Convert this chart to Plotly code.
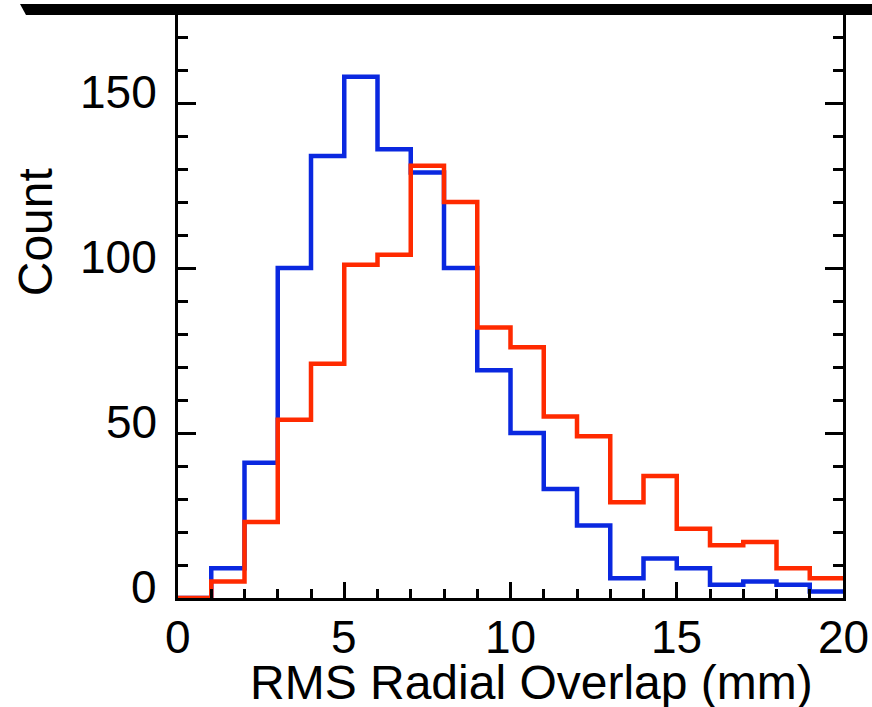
import plotly.graph_objects as go

bin_edges = list(range(0, 21))
blue_counts = [0, 9, 41, 100, 134, 158, 136, 129, 100, 69, 50, 33, 22, 6, 12, 9, 4, 5, 4, 2]
red_counts = [0, 5, 23, 54, 71, 101, 104, 131, 120, 82, 76, 55, 49, 29, 37, 21, 16, 17, 9, 6]
x_ticks = [0, 5, 10, 15, 20]
y_ticks = [0, 50, 100, 150]

W, H = 872, 707
L, R, T, B = 178, 843, 13, 598

fig = go.Figure()
for counts, color in [(blue_counts, "#0a28e0"), (red_counts, "#ff2a00")]:
    fig.add_trace(go.Scatter(
        x=bin_edges, y=counts + [counts[-1]],
        mode="lines", line=dict(color=color, width=4.5, shape="hv"),
        showlegend=False, hoverinfo="skip", cliponaxis=False))

fam = "Liberation Sans, Arial, Helvetica, sans-serif"
tick_font = dict(family=fam, size=46, color="black")
title_font = dict(family=fam, size=48, color="black")

fig.update_layout(
    width=W, height=H,
    margin=dict(l=L, r=W - R, t=T, b=H - B, pad=0),
    paper_bgcolor="white", plot_bgcolor="white",
    font=tick_font,
    xaxis=dict(range=[0, 20], tickvals=x_ticks, ticks="inside", ticklen=16, tickwidth=3,
               tickcolor="black", showline=True, linecolor="black", linewidth=3,
               mirror=True, showgrid=False, zeroline=False, showticklabels=False,
               minor=dict(dtick=1, ticks="inside", ticklen=9, tickwidth=3, tickcolor="black", showgrid=False)),
    yaxis=dict(range=[0, 176.7], tickvals=y_ticks, ticks="inside", ticklen=18, tickwidth=3,
               tickcolor="black", showline=True, linecolor="black", linewidth=3,
               mirror="ticks", showgrid=False, zeroline=False, showticklabels=False,
               minor=dict(dtick=10, ticks="inside", ticklen=10, tickwidth=3, tickcolor="black", showgrid=False)),
)

def px2paper_x(px):
    return (px - L) / (R - L)

def px2paper_y(py):
    return (B - py) / (B - T)

# tick labels
for v in x_ticks:
    fig.add_annotation(text=str(v), x=v, xref="x", y=0, yref="paper", yshift=-38.5,
                       showarrow=False, font=tick_font, xanchor="center", yanchor="middle")
for v in y_ticks:
    fig.add_annotation(text=str(v), x=0, xref="paper", y=v, yref="y", yshift=11.5, xshift=-19,
                       showarrow=False, font=tick_font, xanchor="right", yanchor="middle")

# thick top frame bar
fig.add_shape(type="path", xref="paper", yref="paper",
              path=f"M {px2paper_x(20)},{px2paper_y(2)} L {px2paper_x(872)},{px2paper_y(2)} "
                   f"L {px2paper_x(872)},{px2paper_y(13)} L {px2paper_x(26)},{px2paper_y(13)} Z",
              fillcolor="black", line=dict(width=0))

fig.add_annotation(text="Count", xref="paper", yref="paper", x=px2paper_x(35), y=px2paper_y(231),
                   textangle=-90, showarrow=False, font=title_font, xanchor="center", yanchor="middle")
fig.add_annotation(text="RMS Radial Overlap (mm)", xref="paper", yref="paper",
                   x=px2paper_x(531), y=px2paper_y(683), showarrow=False, font=title_font,
                   xanchor="center", yanchor="middle", borderpad=0)

fig.write_html("out.html", config={"displayModeBar": False},
               post_script="document.body.style.margin='0';document.body.style.overflow='hidden';")
